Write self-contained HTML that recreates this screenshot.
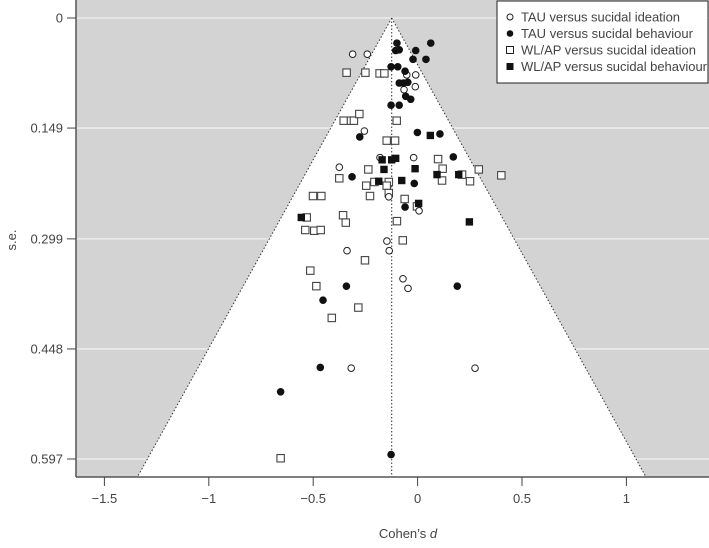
<!DOCTYPE html>
<html><head><meta charset="utf-8"><style>
html,body{margin:0;padding:0;background:#fff;}
svg text{font-family:"Liberation Sans",sans-serif;fill:#444;}
</style></head><body>
<svg id="chart" width="709" height="543" viewBox="0 0 709 543" xmlns="http://www.w3.org/2000/svg">
<g id="plot"></g>
<g id="axes"></g>
<g id="marks"></g>
<g>
<rect x="497" y="1" width="211" height="82" fill="#fff" stroke="#222" stroke-width="1"/>
<g><circle cx="510" cy="17" r="3" fill="#fff" stroke="#222"/><text x="521" y="21.5" font-size="13" textLength="159">TAU versus sucidal ideation</text></g>
<g><circle cx="510" cy="33.5" r="3.3" fill="#111"/><text x="521" y="38" font-size="13" textLength="172">TAU versus sucidal behaviour</text></g>
<g><rect x="506.5" y="46.5" width="7" height="7" fill="#fff" stroke="#222"/><text x="521" y="54.5" font-size="13" textLength="175">WL/AP versus sucidal ideation</text></g>
<g><rect x="506.5" y="63" width="7" height="7" fill="#111"/><text x="521" y="71" font-size="13" textLength="186">WL/AP versus sucidal behaviour</text></g>
</g>
</svg>
<script>
const xTicks=[-1.5,-1,-0.5,0,0.5,1];
const xTickLabels=["\u22121.5","\u22121","\u22120.5","0","0.5","1"];
const yTicks=[0,0.149,0.299,0.448,0.597];
const yTickLabels=["0","0.149","0.299","0.448","0.597"];
const pooledD=-0.124;
const tauIdeD=[-0.311,-0.241,-0.052,-0.009,-0.065,-0.011,-0.255,-0.180,-0.019,-0.375,-0.138,0.007,-0.147,-0.338,-0.136,-0.070,-0.046,-0.318,0.275];
const tauIdeSE=[0.049,0.049,0.077,0.077,0.097,0.093,0.153,0.189,0.189,0.202,0.242,0.261,0.302,0.315,0.315,0.353,0.366,0.474,0.474];
const tauBehD=[-0.099,0.063,-0.105,-0.088,-0.009,-0.022,0.040,-0.127,-0.095,-0.060,-0.088,-0.068,-0.047,-0.057,-0.033,-0.127,-0.088,-0.277,-0.001,0.107,0.171,-0.314,-0.016,-0.060,-0.453,-0.341,0.190,-0.466,-0.656,-0.127];
const tauBehSE=[0.034,0.034,0.044,0.043,0.044,0.056,0.056,0.066,0.066,0.072,0.088,0.088,0.087,0.106,0.110,0.118,0.118,0.161,0.155,0.157,0.188,0.215,0.224,0.256,0.382,0.363,0.363,0.473,0.506,0.591];
const wlIdeD=[-0.340,-0.250,-0.182,-0.159,-0.354,-0.319,-0.305,-0.279,-0.100,-0.148,-0.108,0.098,-0.236,0.120,0.293,0.401,0.213,-0.375,-0.207,-0.138,-0.246,-0.148,0.117,0.251,-0.501,-0.461,-0.228,-0.138,-0.062,-0.003,-0.531,-0.357,-0.344,-0.538,-0.495,-0.464,-0.099,-0.071,-0.252,-0.514,-0.485,-0.284,-0.411,-0.656];
const wlIdeSE=[0.074,0.074,0.075,0.075,0.139,0.139,0.139,0.130,0.139,0.166,0.166,0.191,0.205,0.204,0.205,0.213,0.212,0.217,0.222,0.222,0.227,0.227,0.220,0.221,0.241,0.241,0.241,0.237,0.245,0.255,0.270,0.267,0.277,0.287,0.288,0.287,0.275,0.301,0.328,0.342,0.363,0.392,0.406,0.596];
const wlBehD=[0.061,-0.170,-0.124,-0.105,-0.161,-0.012,0.093,0.197,-0.186,-0.076,0.005,-0.557,0.248];
const wlBehSE=[0.159,0.192,0.192,0.190,0.205,0.204,0.212,0.212,0.221,0.220,0.251,0.270,0.276];

const NS="http://www.w3.org/2000/svg";
const X0=76,X1=709,Y0=0,Y1=477;
function xs(d){return 417.6+d*208.8;}
function ys(s){return 18+s*738.7;}
function mk(tag,attrs,parent){const e=document.createElementNS(NS,tag);for(const k in attrs)e.setAttribute(k,attrs[k]);parent.appendChild(e);return e;}
const plot=document.getElementById('plot'),axes=document.getElementById('axes'),marks=document.getElementById('marks');
const bg=mk('rect',{x:X0,y:Y0,width:X1-X0,height:Y1-Y0,fill:'#d3d3d3'},plot);


yTicks.forEach((t,i)=>{const g=mk('line',{x1:X0,x2:X1,y1:ys(t),y2:ys(t),stroke:'#f2f2f2','stroke-width':1.3},plot);

});
const seMax=(Y1-18)/738.7;
const lx=xs(pooledD-1.96*seMax),rx=xs(pooledD+1.96*seMax),ax=xs(pooledD);
const tri=mk('polygon',{points:`${ax},${ys(0)} ${lx},${Y1} ${rx},${Y1}`,fill:'#fff'},plot);


const l1=mk('line',{x1:ax,y1:ys(0),x2:lx,y2:Y1,stroke:'#333','stroke-dasharray':'1.5,2','stroke-width':1},plot);


const l2=mk('line',{x1:ax,y1:ys(0),x2:rx,y2:Y1,stroke:'#333','stroke-dasharray':'1.5,2','stroke-width':1},plot);


const l3=mk('line',{x1:ax,y1:ys(0),x2:ax,y2:Y1,stroke:'#333','stroke-dasharray':'1.5,2','stroke-width':1},plot);


const ya=mk('line',{x1:X0,x2:X0,y1:Y0,y2:Y1,stroke:'#555','stroke-width':1.5},axes);


const xa=mk('line',{x1:X0,x2:X1,y1:Y1,y2:Y1,stroke:'#555','stroke-width':1.5},axes);


yTicks.forEach((t,i)=>{const y=ys(t);
mk('line',{x1:X0-9,x2:X0,y1:y,y2:y,stroke:'#444'},axes);
const tx=mk('text',{x:X0-13,y:y+4.5,'text-anchor':'end','font-size':13},axes);tx.textContent=yTickLabels[i];

});
xTicks.forEach((t,i)=>{const x=xs(t);
mk('line',{x1:x,x2:x,y1:Y1,y2:Y1+9,stroke:'#444'},axes);
const tx=mk('text',{x:x,y:Y1+26,'text-anchor':'middle','font-size':13},axes);tx.textContent=xTickLabels[i];

});
const xt=mk('text',{x:408,y:538,'text-anchor':'middle','font-size':13},axes);
xt.innerHTML='Cohen\u2019s <tspan font-style="italic">d</tspan>';


const yt=mk('text',{x:0,y:0,'text-anchor':'middle','font-size':13,transform:'translate(16,240) rotate(-90)'},axes);
yt.textContent='s.e.';


function drawSeries(D,S,type,name){
 D.forEach((d,i)=>{const x=xs(d),y=ys(S[i]);let e;
 if(type==='oc')e=mk('circle',{cx:x,cy:y,r:3.3,fill:'#fff',stroke:'#222','stroke-width':1},marks);
 else if(type==='fc')e=mk('circle',{cx:x,cy:y,r:3.8,fill:'#111'},marks);
 else if(type==='os')e=mk('rect',{x:x-3.7,y:y-3.7,width:7.4,height:7.4,fill:'#fff',stroke:'#444','stroke-width':1.1},marks);
 else e=mk('rect',{x:x-3.7,y:y-3.7,width:7.4,height:7.4,fill:'#111'},marks);
 
 });
}
drawSeries(wlIdeD,wlIdeSE,'os','point-wlap-ideation');
drawSeries(tauIdeD,tauIdeSE,'oc','point-tau-ideation');
drawSeries(tauBehD,tauBehSE,'fc','point-tau-behaviour');
drawSeries(wlBehD,wlBehSE,'fs','point-wlap-behaviour');
</script>
</body></html>
